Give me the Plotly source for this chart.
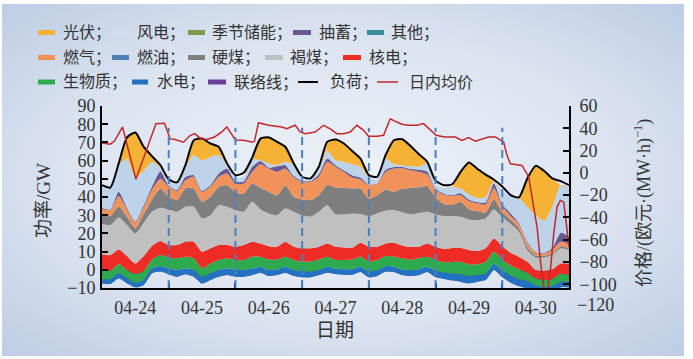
import base64
import numpy as np
import plotly.graph_objects as go

# ---------------- data (GW, 3-hourly from 04-24 00:00) ----------------
hours = list(range(0, 169, 3))
day_labels = ["04-24", "04-25", "04-26", "04-27", "04-28", "04-29", "04-30"]

tie = [-7.4, -7.8, -4.7, -7.4, -9.6, -8.3, -1.9,
       -1.0, -2.4, -3.8, -2.5, -3.8, -7.5, -5.6, -3.8, -2.9, -3.8, -3.8, -2.9,
       -1.6, -3.4, -2.9, -1.6, -3.4, -4.1, -4.1, -2.9, -1.6,
       -2.3, -2.7, -2.7, -1.2, -4.1, -3.4, -1.0, -1.2, -2.9, -3.5, -2.9, -1.2,
       -4.0, -5.0, -5.8, -6.5, -7.4, -6.5, -5.6, -0.1, -4.0,
       -7.1, -8.9, -10.3, -12.5, -13.3, -12.4, -9.6, -9.6]
hydro = [2.3, 2.6, 2.8, 2.7, 2.5, 2.7, 2.7,
         3.1, 3.2, 3.7, 3.3, 3.7, 3.7, 3.7, 3.7, 3.7, 3.7, 3.7, 3.7,
         3.3, 3.3, 3.2, 3.3, 3.3, 3.1, 3.1, 2.8, 3.3,
         2.9, 3.0, 3.0, 2.9, 3.1, 3.3, 3.1, 2.9, 3.2, 3.2, 3.4, 2.9,
         3.5, 3.5, 3.8, 4.0, 4.0, 3.6, 3.6, 3.6, 3.6,
         3.9, 3.7, 4.2, 4.0, 3.7, 3.5, 3.1, 3.1]
biomass = [5.0, 4.7, 5.1, 4.6, 4.8, 5.1, 4.9,
           6.0, 5.9, 6.4, 6.4, 6.4, 4.6, 5.4, 5.5, 5.5, 5.5, 5.5, 6.4,
           5.5, 5.8, 5.4, 5.5, 5.5, 5.5, 5.5, 5.8, 5.5,
           4.8, 5.1, 5.4, 5.5, 5.5, 5.5, 5.5, 5.5, 6.0, 5.8, 6.0, 5.5,
           5.9, 5.7, 6.3, 6.9, 6.4, 5.9, 6.4, 6.4, 6.0,
           5.5, 5.5, 4.5, 3.8, 4.0, 3.9, 4.5, 3.6]
nuclear = [8.7, 8.6, 8.0, 7.7, 5.8, 8.1, 7.4,
           7.7, 6.9, 7.3, 8.2, 9.1, 9.1, 8.3, 8.2, 7.3, 7.3, 8.2, 8.2,
           7.3, 7.3, 7.0, 8.2, 7.3, 7.3, 7.3, 7.0, 7.3,
           7.3, 6.9, 6.4, 7.7, 8.2, 7.3, 6.9, 7.7, 7.1, 7.0, 6.2, 7.3,
           7.3, 7.4, 7.7, 7.7, 7.9, 7.3, 7.4, 7.3, 7.5,
           7.1, 6.9, 6.1, 4.6, 5.0, 5.3, 5.5, 6.4]
lignite = [16.5, 16.5, 17.6, 17.0, 16.5, 18.3, 18.8,
           18.3, 19.6, 18.3, 19.2, 19.2, 18.3, 18.2, 21.9, 21.0, 20.1, 18.3, 22.0,
           18.7, 18.0, 17.4, 18.3, 19.2, 18.3, 17.3, 19.2, 21.0,
           17.8, 18.2, 18.9, 15.7, 16.8, 18.3, 17.9, 17.9, 18.2, 18.0, 18.5, 17.4,
           17.8, 17.9, 17.5, 17.0, 16.8, 17.0, 16.4, 16.0, 16.0,
           15.7, 13.7, 6.4, 6.9, 7.4, 7.8, 8.3, 7.4]
hard_coal = [5.0, 4.9, 6.0, 4.5, 2.7, 4.7, 6.7,
             10.4, 6.9, 6.4, 10.1, 10.1, 9.2, 10.1, 10.1, 11.9, 9.7, 10.0, 10.0,
             12.0, 11.8, 10.9, 12.8, 8.2, 8.5, 9.2, 9.1, 11.0,
             14.7, 14.4, 13.7, 14.0, 9.7, 10.0, 11.7, 10.0, 12.9, 14.5, 14.2, 14.1,
             9.4, 6.7, 6.2, 8.3, 5.6, 4.9, 3.3, 5.6, 2.5,
             2.6, 1.8, 1.8, 1.1, 1.0, 0.9, 1.2, 0.9]
oil = [0.0, 0.0, 0.0, 0.0, 0.0, 0.0, 0.0,
       0.0, 0.0, 0.0, 0.0, 0.0, 0.0, 0.0, 0.0, 0.0, 0.0, 0.0, 0.0,
       0.0, 0.0, 0.0, 0.0, 0.0, 0.0, 0.0, 0.0, 0.0,
       0.0, 0.0, 0.0, 0.0, 0.0, 0.0, 0.0, 0.0, 0.0, 0.0, 0.0, 0.0,
       0.0, 0.0, 0.0, 0.0, 0.0, 0.0, 0.0, 0.0, 0.0,
       0.0, 0.0, 0.0, 0.0, 0.0, 0.0, 0.0, 0.0]
gas = [3.6, 3.3, 5.7, 4.1, 3.2, 3.7, 5.5,
       5.5, 5.5, 4.9, 4.5, 6.4, 5.4, 5.5, 5.5, 6.4, 4.9, 5.5, 6.4,
       12.8, 12.8, 12.8, 9.1, 10.6, 9.7, 10.0, 10.1, 12.8,
       11.4, 8.9, 6.0, 5.0, 7.3, 6.4, 9.7, 12.8, 11.3, 9.7, 8.4, 6.5,
       4.1, 5.0, 4.8, 3.6, 4.4, 4.3, 4.4, 6.2, 3.4,
       1.8, 2.4, 2.2, 1.5, 1.2, 1.9, 2.4, 2.3]
other = [0.0, 0.0, 0.0, 0.0, 0.0, 0.0, 0.0,
         0.0, 0.0, 0.0, 0.0, 0.0, 0.0, 0.0, 0.0, 0.0, 0.0, 0.0, 0.0,
         0.0, 0.0, 0.0, 0.0, 0.0, 0.0, 0.0, 0.0, 0.0,
         0.0, 0.0, 0.0, 0.0, 0.0, 0.0, 0.0, 0.0, 0.0, 0.0, 0.0, 0.0,
         0.0, 0.0, 0.0, 0.0, 0.0, 0.0, 0.0, 0.0, 0.0,
         0.0, 0.0, 0.0, 0.0, 0.0, 0.0, 0.0, 0.0]
pumped = [0.4, 0.4, 2.4, 0.9, 0.5, 1.1, 1.8,
          4.2, 0.7, 0.6, 1.9, 0.9, 0.7, 0.9, 1.8, 2.7, 1.1, 1.1, 2.8,
          1.8, 0.6, 3.1, 1.9, 0.8, 0.5, 0.5, 1.4, 1.8,
          0.9, 0.9, 1.3, 1.1, 0.4, 0.2, 1.2, 0.9, 0.7, 0.8, 1.2, 1.5,
          0.5, 0.6, 0.5, 1.0, 0.8, 0.7, 1.1, 2.5, 1.0,
          1.5, 0.7, 0.5, 0.4, 0.4, 1.0, 5.0, 4.1]
seasonal = [0.0, 0.0, 0.0, 0.0, 0.0, 0.0, 0.0,
            0.0, 0.0, 0.0, 0.0, 0.0, 0.0, 0.0, 0.0, 0.0, 0.0, 0.0, 0.0,
            0.0, 0.0, 0.0, 0.0, 0.0, 0.0, 0.0, 0.0, 0.0,
            0.0, 0.0, 0.0, 0.0, 0.0, 0.0, 0.0, 0.0, 0.0, 0.0, 0.0, 0.0,
            0.0, 0.0, 0.0, 0.0, 0.0, 0.0, 0.0, 0.0, 0.0,
            0.0, 0.0, 0.0, 0.0, 0.0, 0.0, 0.0, 0.0]
wind = [11.1, 11.5, 14.6, 27.0, 24.3, 19.0, 13.4,
        1.8, 2.5, 3.1, 5.5, 11.0, 16.7, 15.5, 10.1, 1.9, 1.7, 2.6, 3.9,
        0.4, 2.2, 0.6, 1.8, 6.0, 0.8, 0.5, 2.2, 4.6,
        2.7, 4.6, 6.0, 5.9, 3.8, 1.9, 6.0, 1.5, 1.0, 1.5, 1.6, 4.5,
        2.5, 3.2, 4.5, 2.7, 3.0, 2.2, 3.0, 1.0, 7.5,
        9.1, 13.7, 19.2, 20.3, 17.5, 22.7, 26.1, 27.0]
solar = [0.0, 0.0, 0.0, 11.6, 24.7, 13.1, 3.1,
         0.0, 0.0, 0.0, 0.0, 8.2, 11.9, 7.4, 4.5, 0.0, 0.0, 0.0, 0.0,
         11.9, 14.3, 12.8, 8.2, 0.0, 0.0, 0.0, 0.0, 4.6,
         11.4, 10.1, 7.3, 4.5, 0.0, 0.0, 2.0, 13.2, 14.2, 11.0, 6.9, 0.0,
         0.0, 0.0, 0.0, 9.1, 17.5, 16.1, 12.3, 0.0, 0.0,
         0.0, 0.0, 15.6, 27.0, 27.5, 15.6, 0.0, 0.0]
load = [46.5, 45.2, 58.4, 72.7, 75.4, 67.5, 62.4,
        57.5, 49.7, 48.0, 57.5, 71.2, 72.1, 69.4, 67.5, 58.4, 52.0, 53.3, 61.5,
        72.1, 72.7, 70.3, 67.5, 58.4, 51.1, 50.2, 56.6, 70.3,
        71.6, 69.4, 65.3, 61.1, 52.0, 51.1, 63.0, 71.2, 71.7, 68.0, 63.5, 59.3,
        49.0, 46.5, 47.0, 53.8, 59.0, 55.5, 52.3, 49.5, 45.8,
        41.0, 39.8, 50.2, 57.1, 54.4, 50.2, 48.7, 46.5]

# intraday average price (EUR/MWh)
price_hours = [0, 3, 4.5, 7.4, 12.2, 16.1, 19.4, 22.5, 24.5, 26.3, 29.3, 31.7, 33.4, 35.5,
               37.7, 40.5, 43.1, 44.9, 46.1, 48.0, 50.9, 53.9, 54.8, 56.3, 59.9, 64.7, 66.5,
               69.5, 71.3, 73.1, 76.7, 79.7, 82.1, 84.5, 86.9, 89.3, 91.7, 94.1, 95.9,
               98.9, 101.3, 103.7, 106.1, 107.9, 110.3, 113.3, 115.7, 118.1, 120.2, 123.2,
               127.1, 129.5, 131.9, 134.3, 136.7, 139.1, 141.5, 143.6, 144.5, 145.7, 146.9,
               151.1, 153.5, 154.7, 156.5, 157.7, 158.9, 160.1, 161.3, 162.5, 163.7, 164.9,
               166.1, 166.9, 168.0]
price = [26.8, 25.8, 28.5, 41.2, -5.8, 20.2, 44.0, 44.5, 30.5, 30.0, 27.5, 33.5, 35.2, 30.7,
         30.0, 32.2, 36.7, 41.2, 36.7, 29.5, 29.2, 27.7, 28.0, 45.0, 42.7, 41.2, 39.7,
         42.7, 36.7, 35.2, 36.7, 42.7, 39.5, 35.2, 35.2, 36.7, 42.7, 38.2, 32.8,
         32.8, 33.7, 48.6, 45.6, 43.6, 42.7, 42.7, 44.2, 38.2, 33.7, 32.2,
         32.2, 29.2, 31.6, 28.5, 30.7, 32.2, 32.2, 29.5, 27.7, 15.7, 8.2,
         6.7, -3.7, -21.7, -48.6, -78.5, -102.5, -110.0, -87.5, -54.6, -30.7, -24.7,
         -26.2, -42.6, -66.6]

left_ticks = [-10, 0, 10, 20, 30, 40, 50, 60, 70, 80, 90]
right_ticks = [60, 40, 20, 0, -20, -40, -60, -80, -100]

# ---------------- layout geometry ----------------
W, H = 693, 359
LM, RM, TM, BM = 102, 124, 106, 71
PW, PH = W - LM - RM, H - TM - BM


def px(x):
    return (x - LM) / PW


def py(y):
    return (H - BM - y) / PH


SERIF = "Liberation Serif, Noto Sans CJK SC, serif"
TXT = "#333333"

layers = [
    ("联络线", tie, "#6c3d9b"),
    ("水电", hydro, "#2372c2"),
    ("生物质", biomass, "#2eaa4e"),
    ("核电", nuclear, "#ee2b24"),
    ("褐煤", lignite, "#c0c0c0"),
    ("硬煤", hard_coal, "#7f7f7f"),
    ("燃油", oil, "#4f7fb5"),
    ("燃气", gas, "#f0925a"),
    ("其他", other, "#3d8c9c"),
    ("抽蓄", pumped, "#6a5890"),
    ("季节储能", seasonal, "#7b9b4a"),
    ("风电", wind, "#bdd3ea"),
    ("光伏", solar, "#f6b234"),
]

fig = go.Figure()
cum = np.zeros(len(hours))
for i, (name, vals, color) in enumerate(layers):
    cum = cum + np.array(vals, dtype=float)
    fig.add_trace(go.Scatter(
        x=hours, y=cum.copy(), mode="lines", name=name,
        line=dict(width=0, color=color, shape="spline", smoothing=0.6),
        fill="tozeroy" if i == 0 else "tonexty", fillcolor=color,
        showlegend=False, hoverinfo="skip"))

fig.add_trace(go.Scatter(x=hours, y=load, mode="lines", name="负荷",
                         line=dict(color="black", width=2, shape="spline", smoothing=0.6),
                         showlegend=False))
fig.add_trace(go.Scatter(x=price_hours, y=price, mode="lines", name="日内均价", yaxis="y2",
                         line=dict(color="#c1272d", width=1.5), showlegend=False))

# background panel (soft gradient)
svg = ("<svg xmlns='http://www.w3.org/2000/svg' width='693' height='359'>"
       "<defs><radialGradient id='g' cx='0.5' cy='0.5' r='0.72'>"
       "<stop offset='0' stop-color='#eef2f8'/><stop offset='0.55' stop-color='#dce4f1'/>"
       "<stop offset='1' stop-color='#bccce4'/></radialGradient></defs>"
       "<rect width='693' height='359' fill='white'/>"
       "<rect x='2' y='4' width='682' height='352' fill='url(#g)'/></svg>")
src = "data:image/svg+xml;base64," + base64.b64encode(svg.encode()).decode()

shapes = []
for d in range(24, 168, 24):
    shapes.append(dict(type="line", xref="x", yref="y", x0=d, x1=d, y0=-10, y1=78,
                       line=dict(color="#4a7fc0", width=2, dash="8px,5px")))

annotations = []
# legend
rows = [32.5, 57.5, 82]
legend_items = [
    (0, "光伏；", "#f6b234", "rect", 38, 55, 61),
    (0, "风电；", "#cfdff0", "rect", 113, 131, 135),
    (0, "季节储能；", "#7b9b4a", "rect", 188, 205, 210),
    (0, "抽蓄；", "#6a5890", "rect", 293, 311, 317),
    (0, "其他；", "#3d8c9c", "rect", 367, 384, 389),
    (1, "燃气；", "#f0925a", "rect", 38, 55, 61),
    (1, "燃油；", "#4f7fb5", "rect", 112, 129, 135),
    (1, "硬煤；", "#7f7f7f", "rect", 188, 205, 210),
    (1, "褐煤；", "#c0c0c0", "rect", 265, 283, 288),
    (1, "核电；", "#ee2b24", "rect", 343, 361, 367),
    (2, "生物质；", "#2eaa4e", "rect", 38, 55, 61),
    (2, "水电；", "#2372c2", "rect", 132, 148, 155),
    (2, "联络线；", "#6c3d9b", "rect", 208, 226, 232),
    (2, "负荷；", "black", "line", 298, 318, 328),
    (2, "日内均价", "#c1272d", "line", 377, 398, 407),
]
for r, text, color, kind, x0, x1, tx in legend_items:
    yc = rows[r]
    if kind == "rect":
        shapes.append(dict(type="rect", xref="paper", yref="paper",
                           x0=px(x0), x1=px(x1), y0=py(yc + 2.5), y1=py(yc - 2.5),
                           fillcolor=color, line=dict(width=0)))
    else:
        shapes.append(dict(type="line", xref="paper", yref="paper",
                           x0=px(x0), x1=px(x1), y0=py(yc), y1=py(yc),
                           line=dict(color=color, width=2 if color == "black" else 1.5)))
    annotations.append(dict(text=text, xref="paper", yref="paper", x=px(tx), y=py(yc),
                            xanchor="left", yanchor="middle", showarrow=False,
                            font=dict(family=SERIF, size=16, color=TXT)))

annotations += [
    dict(text="功率/GW", xref="paper", yref="paper", x=px(43), y=py(200), textangle=-90,
         xanchor="center", yanchor="middle",
         showarrow=False, font=dict(family=SERIF, size=19, color=TXT)),
    dict(text="价格/(欧元·(MW·h)<sup>−1</sup>)", xref="paper", yref="paper", x=px(643), y=py(203),
         textangle=-90, xanchor="center", yanchor="middle",
         showarrow=False, font=dict(family=SERIF, size=18, color=TXT)),
    dict(text="日期", xref="paper", yref="paper", x=px(335), y=py(330),
         xanchor="center", yanchor="middle",
         showarrow=False, font=dict(family=SERIF, size=19, color=TXT)),
    dict(text="−120", xref="paper", yref="paper", x=px(575), y=py(305), xanchor="left",
         yanchor="middle", showarrow=False, font=dict(family=SERIF, size=18, color=TXT)),
]

axis_font = dict(family=SERIF, size=18, color=TXT)
fig.update_layout(
    width=W, height=H, margin=dict(l=LM, r=RM, t=TM, b=BM, autoexpand=False),
    paper_bgcolor="white", plot_bgcolor="rgba(0,0,0,0)",
    showlegend=False,
    images=[dict(source=src, xref="paper", yref="paper", x=px(0), y=py(0),
                 sizex=W / PW, sizey=H / PH, xanchor="left", yanchor="top",
                 sizing="stretch", layer="below")],
    xaxis=dict(range=[0, 168], tickvals=[12 + 24 * i for i in range(7)], ticktext=day_labels,
               ticks="", showline=True, linecolor="black", linewidth=2, showgrid=False,
               zeroline=False, tickfont=axis_font, ticklabelstandoff=2, automargin=False,
               minor=dict(tickvals=[24, 48, 72, 96, 120, 144], ticks="inside", ticklen=5,
                          tickwidth=1.5, tickcolor="black", showgrid=False)),
    yaxis=dict(range=[-10, 90], tickvals=left_ticks, ticks="inside", ticklen=6, tickwidth=1.5,
               tickcolor="black", showline=True, linecolor="black", linewidth=2,
               showgrid=False, zeroline=False, tickfont=axis_font, ticklabelstandoff=1,
               automargin=False),
    yaxis2=dict(range=[-103.3, 60], tickvals=right_ticks, overlaying="y", side="right",
                ticks="inside", ticklen=6, tickwidth=1.5, tickcolor="black", showline=True,
                linecolor="black", linewidth=2, showgrid=False, zeroline=False,
                tickfont=axis_font, ticklabelstandoff=5, automargin=False),
    shapes=shapes, annotations=annotations,
)

fig.write_html("out.html", config={"displayModeBar": False},
               post_script="document.body.style.margin='0';document.body.style.overflow='hidden';")
